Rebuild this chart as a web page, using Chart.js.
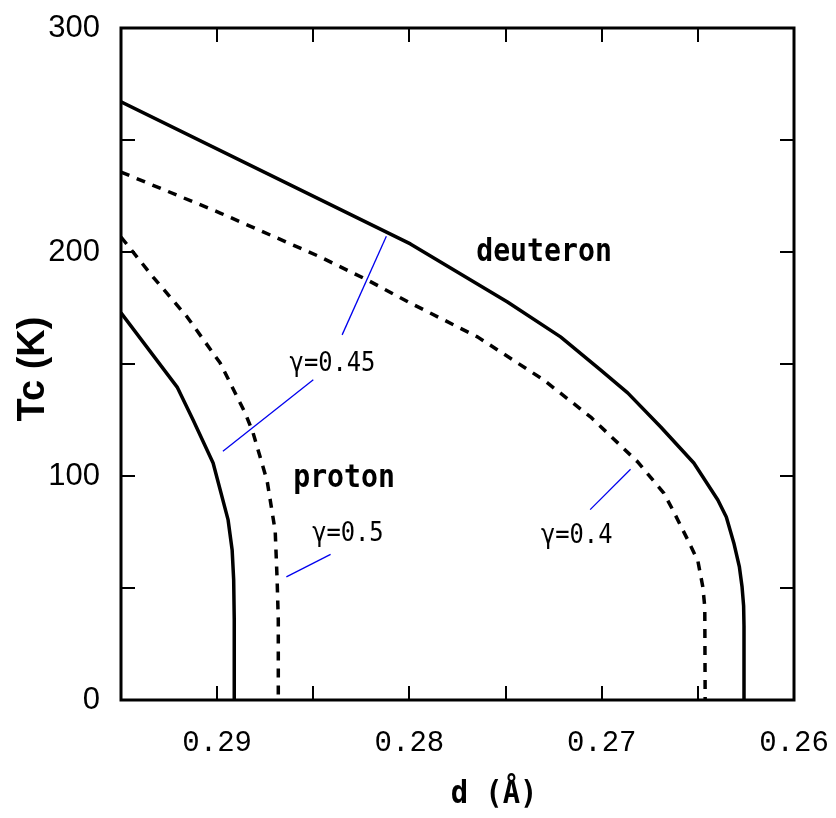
<!DOCTYPE html>
<html>
<head>
<meta charset="utf-8">
<script src="https://cdn.jsdelivr.net/npm/chart.js@4.4.1/dist/chart.umd.min.js"></script>
<style>
  html, body { margin: 0; padding: 0; background: #fff; }
  canvas { display: block; }
</style>
</head>
<body>
<canvas id="tcChart" width="836" height="818"></canvas>
<script>
// Tc (K) against O-O distance d (Å)
const deuteronSolidD  = [0.29500, 0.27995, 0.27490, 0.27214, 0.27005, 0.26865, 0.26693, 0.26521, 0.26396, 0.26352, 0.26313, 0.26284, 0.26270, 0.26262, 0.26260, 0.26260];
const deuteronSolidTc = [267, 203.6, 177.7, 162.1, 147.3, 137.1, 121.9, 105.8, 89.3, 81.7, 70.1, 59.4, 50.4, 42, 33, 0];

const deuteronDashedD  = [0.29500, 0.28984, 0.28464, 0.28219, 0.27995, 0.27646, 0.27302, 0.27057, 0.26813, 0.26677, 0.26630, 0.26552, 0.26500, 0.26474, 0.26464, 0.26462];
const deuteronDashedTc = [235.7, 217.4, 197.8, 187.5, 177.2, 162.1, 142.9, 126.3, 106.3, 92.4, 84.8, 71.4, 62.1, 50.4, 41.5, 0];

const protonSolidD  = [0.29500, 0.29208, 0.29125, 0.29021, 0.28943, 0.28922, 0.28914, 0.28911, 0.28911];
const protonSolidTc = [172.8, 139.7, 125, 105.8, 80.4, 67, 53.6, 35.7, 0];

const protonDashedD  = [0.29500, 0.29333, 0.29156, 0.28984, 0.28854, 0.28813, 0.28740, 0.28698, 0.28688, 0.28682, 0.28682];
const protonDashedTc = [206.7, 188.8, 171, 150.4, 128.1, 119.2, 97.8, 75.4, 53.6, 35.7, 0];

// thin blue pointers from the gamma labels to the curves
const pointerD  = [[0.2812, 0.2835], [0.2850, 0.2897], [0.2841, 0.2864], [0.2685, 0.2706]];
const pointerTc = [[207, 163], [143, 111], [65, 55], [103, 85]];

// text placed in the plot (centre d, baseline Tc)
const curveLabels = ['deuteron', 'proton'];
const curveLabelD = [0.2730, 0.2834];
const curveLabelTc = [196, 95];
const gammaLabels = ['γ=0.45', 'γ=0.5', 'γ=0.4'];
const gammaLabelD = [0.2840, 0.2832, 0.2713];
const gammaLabelTc = [147, 71, 70];

const xTickValues = [0.29, 0.28, 0.27, 0.26];
const xMinorTicks = [0.29, 0.285, 0.28, 0.275, 0.27, 0.265];
const yTickValues = [0, 100, 200, 300];
const yMinorTicks = [50, 100, 150, 200, 250];

const TICK_LEN = 14;

function toPoints(xs, ys) {
    return xs.map((v, i) => ({ x: v, y: ys[i] }));
}

function curve(xs, ys, dashed) {
    return {
        data: toPoints(xs, ys),
        borderColor: '#000',
        borderWidth: 3.5,
        borderDash: dashed ? [9, 8] : [],
        borderJoinStyle: 'round',
        pointRadius: 0,
        tension: 0,
        fill: false
    };
}

const datasets = [
    curve(deuteronSolidD, deuteronSolidTc, false),
    curve(deuteronDashedD, deuteronDashedTc, true),
    curve(protonSolidD, protonSolidTc, false),
    curve(protonDashedD, protonDashedTc, true)
];
pointerD.forEach((xs, i) => {
    datasets.push({
        data: toPoints(xs, pointerTc[i]),
        borderColor: '#0000ee',
        borderWidth: 1.3,
        pointRadius: 0,
        fill: false
    });
});

function drawText(ctx, text, px, py, font, sx) {
    ctx.save();
    ctx.translate(px, py);
    ctx.scale(sx, 1);
    ctx.font = font;
    ctx.fillStyle = '#000';
    ctx.textAlign = 'center';
    ctx.textBaseline = 'alphabetic';
    ctx.fillText(text, 0, 0);
    ctx.restore();
}

// frame, inward ticks, in-plot labels and axis titles
const framePlugin = {
    id: 'framePlugin',
    afterDatasetsDraw(chart) {
        const { ctx, chartArea: a, scales: { x, y } } = chart;
        ctx.save();
        ctx.strokeStyle = '#000';
        ctx.lineWidth = 2;
        ctx.beginPath();
        xMinorTicks.forEach(v => {
            const px = Math.round(x.getPixelForValue(v));
            ctx.moveTo(px, a.bottom); ctx.lineTo(px, a.bottom - TICK_LEN);
            ctx.moveTo(px, a.top); ctx.lineTo(px, a.top + TICK_LEN);
        });
        yMinorTicks.forEach(v => {
            const py = Math.round(y.getPixelForValue(v));
            ctx.moveTo(a.left, py); ctx.lineTo(a.left + TICK_LEN, py);
            ctx.moveTo(a.right, py); ctx.lineTo(a.right - TICK_LEN, py);
        });
        ctx.stroke();

        ctx.lineWidth = 3;
        ctx.strokeRect(a.left, a.top, a.right - a.left, a.bottom - a.top);

        curveLabels.forEach((t, i) => {
            drawText(ctx, t, x.getPixelForValue(curveLabelD[i]), y.getPixelForValue(curveLabelTc[i]),
                'bold 32px "DejaVu Sans Mono"', 0.88);
        });
        gammaLabels.forEach((t, i) => {
            drawText(ctx, t, x.getPixelForValue(gammaLabelD[i]), y.getPixelForValue(gammaLabelTc[i]),
                '27px "DejaVu Sans Mono"', 0.88);
        });

        // axis titles
        drawText(ctx, 'd (Å)', 494, 803, 'bold 32px "DejaVu Sans Mono"', 0.9);
        ctx.save();
        ctx.translate(34, 369);
        ctx.rotate(-Math.PI / 2);
        ctx.font = 'bold 38px "Liberation Sans"';
        ctx.fillStyle = '#000';
        ctx.textAlign = 'center';
        ctx.textBaseline = 'middle';
        ctx.fillText('Tc (K)', 0, 0);
        ctx.restore();

        ctx.restore();
    }
};

// keep the plot box where the figure has it
function noEdgePadding(s) {
    s.paddingLeft = 0;
    s.paddingRight = 0;
    s.paddingTop = 0;
    s.paddingBottom = 0;
}

new Chart(document.getElementById('tcChart'), {
    type: 'line',
    data: { datasets: datasets },
    options: {
        responsive: false,
        devicePixelRatio: 1,
        animation: false,
        layout: { padding: { left: 0, top: 28, right: 42, bottom: 0 } },
        plugins: { legend: { display: false }, tooltip: { enabled: false } },
        scales: {
            x: {
                type: 'linear',
                reverse: true,
                min: 0.26,
                max: 0.295,
                afterBuildTicks: s => { s.ticks = xTickValues.map(v => ({ value: v })); },
                afterFit: s => { s.height = 118; noEdgePadding(s); },
                grid: { display: false, drawTicks: false },
                border: { display: false },
                ticks: {
                    color: '#000',
                    padding: 26,
                    maxRotation: 0,
                    font: { family: 'Liberation Mono', size: 29 },
                    callback: v => v.toFixed(2)
                }
            },
            y: {
                type: 'linear',
                min: 0,
                max: 300,
                afterBuildTicks: s => { s.ticks = yTickValues.map(v => ({ value: v })); },
                afterFit: s => { s.width = 121; noEdgePadding(s); },
                grid: { display: false, drawTicks: false },
                border: { display: false },
                ticks: {
                    color: '#000',
                    padding: 21,
                    font: { family: 'Liberation Sans', size: 31 }
                }
            }
        }
    },
    plugins: [framePlugin]
});
</script>
</body>
</html>
